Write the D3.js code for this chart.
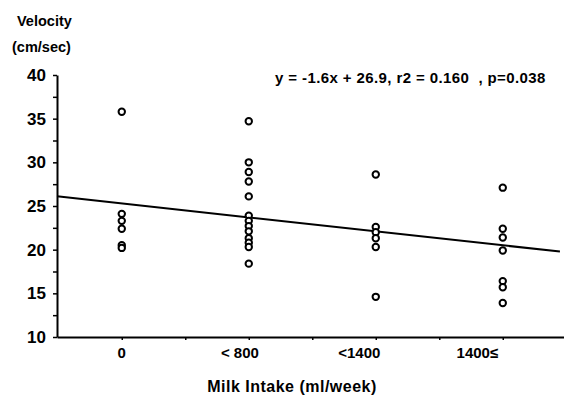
<!DOCTYPE html>
<html>
<head>
<meta charset="utf-8">
<script src="https://cdn.jsdelivr.net/npm/d3@7"></script>
<style>
  html, body { margin: 0; padding: 0; background: #fff; }
  svg text { font-family: "Liberation Sans", Arial, sans-serif; font-weight: bold; fill: #000; }
</style>
</head>
<body>
<svg id="chart" width="564" height="403"></svg>
<script>
// ---- data ----
const categories = ["0", "< 800", "<1400", "1400\u2264"];
const groupIndex = [1, 2, 3, 4];
const velocityNone = [35.8, 24.1, 23.3, 22.4, 20.5, 20.2];
const velocityUnder800 = [34.7, 30.0, 28.9, 27.8, 26.1, 23.9, 23.3, 22.7, 22.1, 21.3, 20.8, 20.3, 18.4];
const velocityUnder1400 = [28.6, 22.6, 22.0, 21.3, 20.3, 14.6];
const velocityOver1400 = [27.1, 22.4, 21.4, 19.9, 16.4, 15.7, 13.9];
const tickLabelAt = [1, 1.93, 2.87, 3.80];
const yTicks = [10, 15, 20, 25, 30, 35, 40];
const regSlope = -1.6, regIntercept = 26.9;
const equationText = "y = -1.6x + 26.9, r2 = 0.160  , p=0.038";

const groups = [velocityNone, velocityUnder800, velocityUnder1400, velocityOver1400];

const svg = d3.select("#chart");
const x = d3.scaleLinear().domain([0.49, 4.49]).range([57, 565]);
const y = d3.scaleLinear().domain([10, 40]).range([337, 75]);

// y axis
const yAxis = d3.axisLeft(y)
  .tickValues(d3.range(10, 40.01, 2.5))
  .tickSize(4).tickSizeOuter(0)
  .tickFormat(d => yTicks.includes(d) ? d : "");
const gy = svg.append("g").attr("transform", `translate(${x(0.49)},0)`).call(yAxis);
gy.select(".domain").attr("stroke", "#000").attr("stroke-width", 2);
gy.selectAll(".tick line").attr("stroke", "#000").attr("stroke-width", 1.5);
gy.selectAll(".tick text").attr("x", -11).style("font-size", "17px").style("font-family", "'Liberation Sans', Arial, sans-serif").style("font-weight", "bold");

// x axis
const xAxis = d3.axisBottom(x)
  .tickValues(d3.range(1, 4.51, 0.5))
  .tickSize(3).tickSizeOuter(0)
  .tickFormat("");
const gx = svg.append("g").attr("transform", `translate(0,${y(10)})`).call(xAxis);
gx.select(".domain").attr("stroke", "#000").attr("stroke-width", 2);
gx.selectAll(".tick line").attr("stroke", "#000").attr("stroke-width", 1.5);

svg.append("g").selectAll("text").data(categories).join("text")
  .attr("x", (d, i) => x(tickLabelAt[i]))
  .attr("y", 358)
  .attr("text-anchor", "middle")
  .style("font-size", "15px")
  .text(d => d);

// regression line
const lineX = [0.49, 4.45];
svg.append("path")
  .datum(lineX)
  .attr("fill", "none").attr("stroke", "#000").attr("stroke-width", 2)
  .attr("d", d3.line().x(d => x(d)).y(d => y(regSlope * d + regIntercept)));

// points
const pts = groups.flatMap((vals, gi) => vals.map(v => ({ g: groupIndex[gi], v })));
svg.append("g").selectAll("circle").data(pts).join("circle")
  .attr("cx", d => x(d.g)).attr("cy", d => y(d.v))
  .attr("r", 3.2)
  .attr("fill", "#fff").attr("stroke", "#000").attr("stroke-width", 2);

// texts
svg.append("text").attr("x", 17).attr("y", 26).style("font-size", "14.5px").text("Velocity");
svg.append("text").attr("x", 12).attr("y", 52).style("font-size", "14.5px").text("(cm/sec)");
svg.append("text").attr("x", 275).attr("y", 83).style("font-size", "15px").style("letter-spacing", "0.4px").style("white-space", "pre").text(equationText);
svg.append("text").attr("x", 292).attr("y", 392).attr("text-anchor", "middle").style("font-size", "16px").style("letter-spacing", "0.5px").text("Milk Intake (ml/week)");
</script>
</body>
</html>
